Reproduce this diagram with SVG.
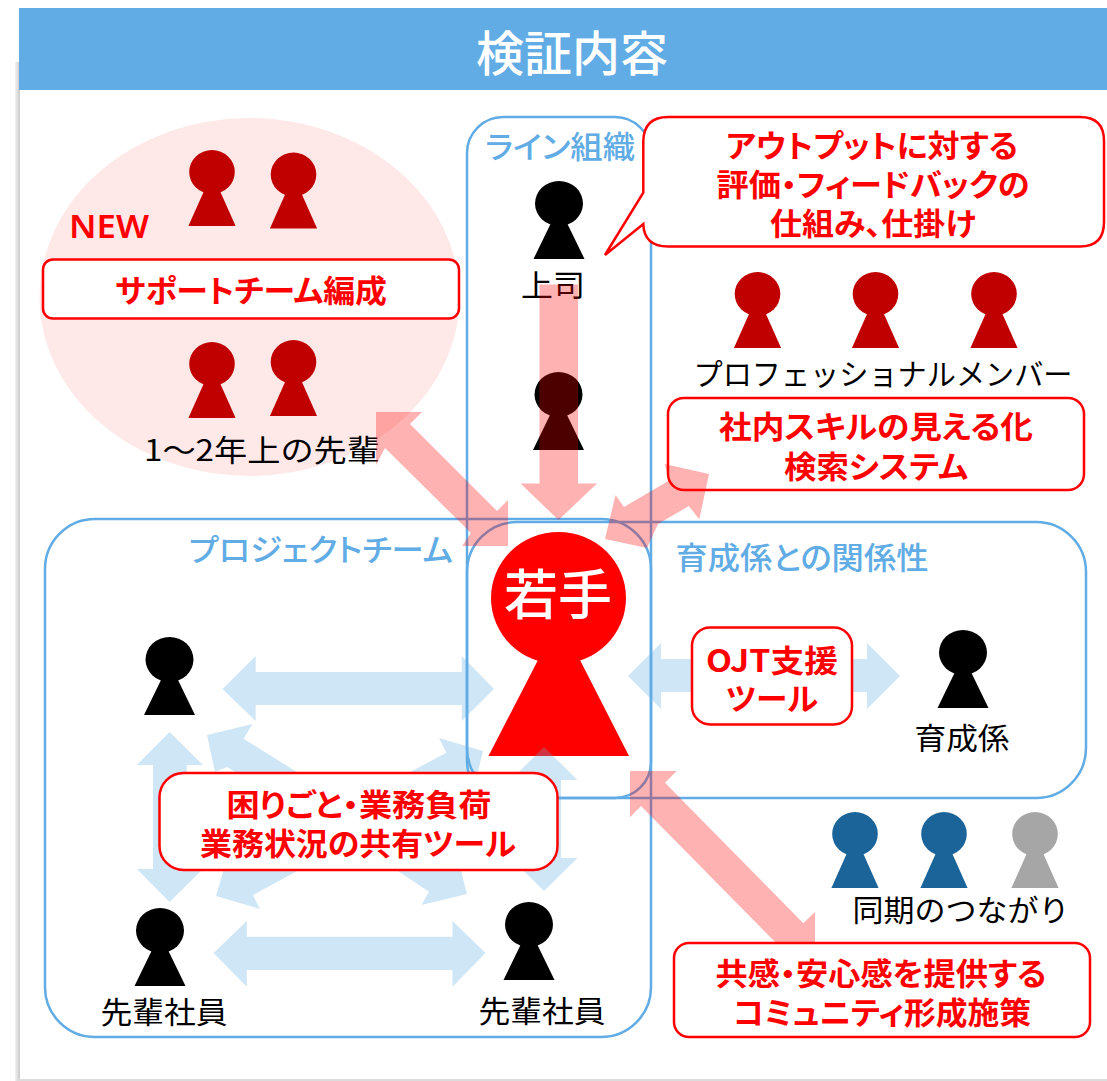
<svg xmlns="http://www.w3.org/2000/svg" width="1107" height="1081" viewBox="0 0 1107 1081">
<defs>
<style>
text{font-family:"Noto Sans CJK JP","Noto Sans",sans-serif;text-anchor:middle}
.box{fill:#fff;stroke:#f00;stroke-width:2.5}
.grp{fill:none;stroke:#61ACE5;stroke-width:2.5}
.pink{fill:#f00;fill-opacity:.3}
.blue{fill:#61ACE5;fill-opacity:.3}
.r{fill:#f00;font-weight:700;font-size:31px;font-feature-settings:"palt"}
.b{fill:#61ACE5;font-weight:500;font-size:31px;font-feature-settings:"palt"}
.k{fill:#000;font-size:30px}
.dr{fill:#C00000}.bk{fill:#000}.nv{fill:#1A6499}.gy{fill:#A6A6A6}
</style>
<linearGradient id="sh" x1="0" x2="1" y1="0" y2="0"><stop offset="0" stop-color="#f2f2f2"/><stop offset="1" stop-color="#c9c9c9"/></linearGradient>
<g id="p"><ellipse cx="0" cy="22.500" rx="24" ry="22.500"/><path d="M-8 42L8 42L25.500 78H-25.500Z"/></g>
<g id="q"><ellipse cx="0" cy="22" rx="22.800" ry="22"/><path d="M-8 41L8 41L23.600 76H-23.600Z"/></g>
</defs>
<rect x="15" y="62" width="5" height="1019" fill="url(#sh)"/>
<rect x="18" y="1079" width="1089" height="2" fill="#dcdcdc"/>
<g id="title"><rect x="19" y="8" width="1088" height="82" fill="#61ACE5"/><text x="572" y="71" font-size="48" font-weight="500" fill="#fff">検証内容</text></g>
<g id="support-area"><ellipse cx="249.500" cy="297" rx="210" ry="179" fill="#FEE8E8"/><text x="109" y="238" font-size="33" font-weight="600" fill="#f00" style="font-family:'Noto Sans',sans-serif" textLength="80" lengthAdjust="spacingAndGlyphs">NEW</text></g>
<g id="groups">
<rect class="grp" x="467" y="117" width="184" height="681" rx="36"/>
<rect class="grp" x="45" y="519" width="606" height="518" rx="50"/>
<rect class="grp" x="467" y="522" width="619" height="276" rx="50"/>
<text class="b" x="560" y="158" textLength="150" lengthAdjust="spacingAndGlyphs">ライン組織</text>
<text class="b" x="321" y="561" textLength="264" lengthAdjust="spacingAndGlyphs">プロジェクトチーム</text>
<text class="b" x="802" y="569" textLength="253" lengthAdjust="spacingAndGlyphs">育成係との関係性</text>
</g>
<g id="people">
<use href="#q" class="dr" x="212" y="150"/><use href="#q" class="dr" x="293.500" y="152.500"/>
<use href="#q" class="dr" x="212" y="342"/><use href="#q" class="dr" x="293.500" y="340"/>
<use href="#p" class="bk" x="559" y="181"/><use href="#p" class="bk" x="558.500" y="372"/>
<use href="#q" class="dr" x="757.500" y="272"/><use href="#q" class="dr" x="875.500" y="272"/><use href="#q" class="dr" x="994" y="272"/>
<use href="#p" class="bk" x="169.500" y="637"/><use href="#p" class="bk" x="160" y="908"/><use href="#p" class="bk" x="529" y="902"/><use href="#p" class="bk" x="963" y="630"/>
<use href="#q" class="nv" x="855" y="812"/><use href="#q" class="nv" x="944" y="812"/><use href="#q" class="gy" x="1035" y="812"/>
</g>
<g id="wakate"><ellipse cx="558.500" cy="598" rx="67.500" ry="66" fill="#f00"/><path d="M538 660H580L629 756H488.500Z" fill="#f00"/><text x="558" y="615" font-size="54" font-weight="500" fill="#fff">若手</text></g>
<g id="labels">
<text class="k" x="553" y="296" textLength="64" lengthAdjust="spacingAndGlyphs">上司</text>
<text class="k" x="262" y="461" textLength="236" lengthAdjust="spacingAndGlyphs">1～2年上の先輩</text>
<text class="k" x="883" y="385" textLength="379" lengthAdjust="spacingAndGlyphs">プロフェッショナルメンバー</text>
<text class="k" x="962" y="749" textLength="95" lengthAdjust="spacingAndGlyphs">育成係</text>
<text class="k" x="961" y="921" textLength="217" lengthAdjust="spacingAndGlyphs">同期のつながり</text>
<text class="k" x="164" y="1023" textLength="127" lengthAdjust="spacingAndGlyphs">先輩社員</text>
<text class="k" x="542" y="1022" textLength="127" lengthAdjust="spacingAndGlyphs">先輩社員</text>
</g>
<g id="skill-box"><rect class="box" x="668" y="398" width="416" height="92" rx="16"/>
<text class="r" x="876" y="438" textLength="314" lengthAdjust="spacingAndGlyphs">社内スキルの見える化</text>
<text class="r" x="876" y="478" textLength="184" lengthAdjust="spacingAndGlyphs">検索システム</text></g>
<g id="connectors">
<path class="pink" d="M539.500 284.500H578V483.500H597L558.500 520L520.500 483.500H539.500Z"/>
<path class="pink" d="M376 412H422L410 424L497 511L508 500V546H462L471 533L385 448L376 465Z"/>
<path class="pink" d="M709 474L699.300 519.300L688.800 506L658 524L647 548L605 539L615.500 495L624 507L670 480L664.500 464Z"/>
<path class="pink" d="M630 771H676.700L665 782.700L803.300 923.300L815 912V960H769L781 948L641 806L630 817.300Z"/>
<path class="blue" d="M222.500 689L255.700 656V672H461.800V656L494 689L461.800 721V705H255.700V721Z"/>
<path class="blue" d="M169.600 732L203 765H186.800V869H203L169.600 902L136.800 869H153V765H136.800Z"/>
<path class="blue" d="M544 747L577.500 780H561V858H577.500L544 891L510.700 858H527V780H510.700Z"/>
<path class="blue" d="M207 735L252.500 724L243.600 738.700L298 772.700L450 866L457 855L467 894L421.400 905L429 891.700L398 871L227 767L215 772Z"/>
<path class="blue" d="M483 751L439 738L446.400 752.700L235 865L228 855L216 896L260 909L253 895L455 785L473 792Z"/>
<path class="blue" d="M213.600 953L246.800 921V936.700H452.500V921L485.500 953L452.500 986.700V970H246.800V986.700Z"/>
<path class="blue" d="M628 676L661 643V659H867V643L900 676L867 709V692H661V709Z"/>
</g>
<g id="support-box"><rect class="box" x="43" y="259.500" width="416" height="59" rx="10"/><text class="r" x="251" y="302" textLength="272" lengthAdjust="spacingAndGlyphs">サポートチーム編成</text></g>
<g id="callout"><path class="box" d="M668 117H1080Q1104 117 1104 141V222Q1104 246.500 1080 246.500H668Q644 246.500 643.300 224L605 255L643.300 192.700V141Q644 117 668 117Z"/>
<text class="r" x="872" y="157" textLength="292" lengthAdjust="spacingAndGlyphs">アウトプットに対する</text>
<text class="r" x="873" y="196" textLength="313" lengthAdjust="spacingAndGlyphs">評価・フィードバックの</text>
<text class="r" x="873" y="235" textLength="206" lengthAdjust="spacingAndGlyphs">仕組み、仕掛け</text></g>
<g id="ojt-box"><rect class="box" x="692" y="627.500" width="160" height="97" rx="18"/>
<text class="r" x="772" y="672" textLength="132" lengthAdjust="spacingAndGlyphs">OJT支援</text>
<text class="r" x="772" y="710" textLength="92" lengthAdjust="spacingAndGlyphs">ツール</text></g>
<g id="share-box"><rect class="box" x="159.500" y="773" width="398" height="97" rx="24"/>
<text class="r" x="359" y="816" textLength="265" lengthAdjust="spacingAndGlyphs">困りごと・業務負荷</text>
<text class="r" x="358" y="855" textLength="316" lengthAdjust="spacingAndGlyphs">業務状況の共有ツール</text></g>
<g id="community-box"><rect class="box" x="674" y="943" width="416" height="94" rx="15"/>
<text class="r" x="881" y="985" textLength="331" lengthAdjust="spacingAndGlyphs">共感・安心感を提供する</text>
<text class="r" x="882" y="1024" textLength="298" lengthAdjust="spacingAndGlyphs">コミュニティ形成施策</text></g>
</svg>
